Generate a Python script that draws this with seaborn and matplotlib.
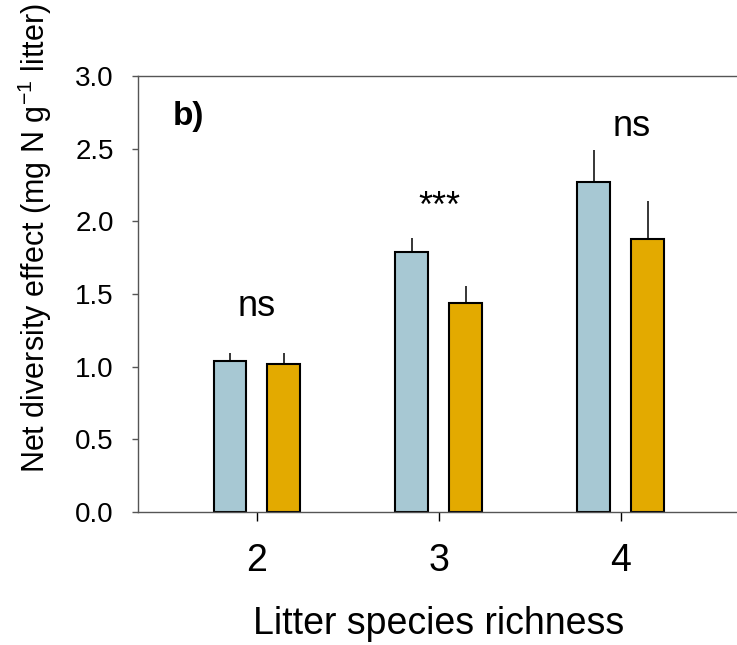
import pandas as pd
import matplotlib
matplotlib.use('Agg')
import matplotlib.pyplot as plt
import seaborn as sns

# data
richness = [2, 3, 4]
mean_a = [1.04, 1.79, 2.27]
err_a = [0.055, 0.097, 0.22]
mean_b = [1.02, 1.44, 1.88]
err_b = [0.075, 0.117, 0.26]
sig_labels = ['ns', '***', 'ns']
sig_x = [2.0, 3.0, 4.06]
sig_y = [1.35, 2.03, 2.59]

bar_colors = ['#A7C8D3', '#E3AA00']

df = pd.DataFrame({
    'richness': richness * 2,
    'group': ['A'] * 3 + ['B'] * 3,
    'value': mean_a + mean_b,
})

sns.set_style('ticks')
plt.rcParams['font.family'] = ['Liberation Sans', 'DejaVu Sans']
plt.rcParams['mathtext.fontset'] = 'custom'
plt.rcParams['mathtext.rm'] = 'Liberation Sans'
plt.rcParams['mathtext.it'] = 'Liberation Sans'
plt.rcParams['text.color'] = 'black'
plt.rcParams['axes.labelcolor'] = 'black'
plt.rcParams['xtick.labelcolor'] = 'black'
plt.rcParams['ytick.labelcolor'] = 'black'

fig = plt.figure(figsize=(7.37, 6.45), dpi=100)
ax = fig.add_axes([0.1872, 0.2062, 0.8168, 0.676])

sns.barplot(data=df, x='richness', y='value', hue='group', native_scale=True,
            palette=bar_colors, saturation=1, width=0.593, gap=0.389,
            edgecolor='black', linewidth=1.5, errorbar=None, legend=False, ax=ax)

# upper error bars only, placed on the drawn bars
for cont, err in zip(ax.containers, [err_a, err_b]):
    xs = [p.get_x() + p.get_width() / 2 for p in cont.patches]
    ys = [p.get_height() for p in cont.patches]
    ax.errorbar(xs, ys, yerr=[[0] * len(err), err], fmt='none',
                ecolor='black', elinewidth=1.1, capsize=0, zorder=1)

for x, y, s in zip(sig_x, sig_y, sig_labels):
    ax.text(x, y, s, ha='center', va='baseline', fontsize=26)

ax.text(0.058, 0.888, 'b)', transform=ax.transAxes, fontsize=24,
        fontweight='bold', va='baseline', ha='left')

ax.set_xlim(1.346, 4.654)
ax.set_ylim(0, 3.0)
ax.set_xticks(richness)
ax.set_xticklabels([str(r) for r in richness])
ax.set_yticks([0, 0.5, 1.0, 1.5, 2.0, 2.5, 3.0])
ax.set_yticklabels(['0.0', '0.5', '1.0', '1.5', '2.0', '2.5', '3.0'])
ax.tick_params(axis='x', labelsize=27, length=6.5, width=1, pad=16, color='black')
ax.tick_params(axis='y', labelsize=20, length=4.3, width=1, pad=13, color='#555555')

ax.set_xlabel('Litter species richness', fontsize=27, labelpad=19)
ax.set_ylabel(r'Net diversity effect (mg N g$^{-1}$ litter)', fontsize=22)
ax.yaxis.set_label_coords(-0.14, 0.628)

for side in ['left', 'top', 'bottom']:
    ax.spines[side].set_visible(True)
    ax.spines[side].set_color('#555555')
    ax.spines[side].set_linewidth(1.0)
ax.spines['right'].set_visible(False)

fig.savefig('out.png', dpi=100)
